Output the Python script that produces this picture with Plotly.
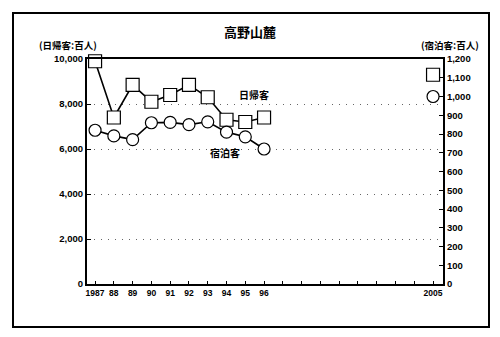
import plotly.graph_objects as go

# Years on the x axis (1997-2004 have no survey values)
years = list(range(1987, 2006))
year_labels = ["1987", "88", "89", "90", "91", "92", "93", "94", "95", "96",
               "", "", "", "", "", "", "", "", "2005"]

# 日帰客 (day visitors, hundreds of people) — left axis
day_visitors = [9900, 7400, 8850, 8100, 8400, 8850, 8300, 7300, 7200, 7400,
                None, None, None, None, None, None, None, None, 9300]
# 宿泊客 (overnight guests, hundreds of people) — right axis
overnight = [820, 790, 770, 860, 862, 850, 865, 810, 785, 720,
             None, None, None, None, None, None, None, None, 1000]

left_ticks = [0, 2000, 4000, 6000, 8000, 10000]
right_ticks = list(range(0, 1201, 100))

num_font = dict(family="Liberation Sans, Arial", size=9.5, color="black",
                weight="bold")
jp = "Noto Sans CJK JP"


def px_x(px):
    """Horizontal pixel position -> paper coordinate of the plot area."""
    return (px - 87) / 356


def px_y(py):
    """Vertical pixel position -> paper coordinate of the plot area."""
    return (284 - py) / 225


fig = go.Figure()
fig.add_trace(go.Scatter(
    x=years, y=day_visitors, mode="lines+markers", name="日帰客",
    connectgaps=False, cliponaxis=False,
    line=dict(color="black", width=1.6),
    marker=dict(symbol="square", size=13, color="white",
                line=dict(color="black", width=1.2)),
))
fig.add_trace(go.Scatter(
    x=years, y=overnight, mode="lines+markers", name="宿泊客",
    yaxis="y2", connectgaps=False, cliponaxis=False,
    line=dict(color="black", width=1.6),
    marker=dict(symbol="circle", size=12, color="white",
                line=dict(color="black", width=1.2)),
))

fig.update_layout(
    width=500, height=337,
    margin=dict(l=87, r=57, t=59, b=53),
    paper_bgcolor="white", plot_bgcolor="white",
    showlegend=False,
    xaxis=dict(
        range=[1986.57, 2005.53], tickvals=years, ticktext=year_labels,
        ticks="inside", ticklen=3, tickcolor="black", tickwidth=1,
        showline=True, linecolor="black", linewidth=2, mirror=True,
        showgrid=False, zeroline=False,
        tickfont=dict(family="Liberation Sans, Arial", size=8.5,
                      color="black", weight="bold"),
    ),
    yaxis=dict(
        range=[0, 10000], tickvals=left_ticks, tickformat=",d",
        ticks="inside", ticklen=4, tickcolor="black",
        showline=True, linecolor="black", linewidth=2,
        showgrid=True, gridcolor="#666", griddash="1px,6px", gridwidth=1,
        zeroline=False, tickfont=num_font,
    ),
    yaxis2=dict(
        range=[0, 1200], tickvals=right_ticks, tickformat=",d",
        overlaying="y", side="right",
        ticks="inside", ticklen=4, tickcolor="black",
        showline=True, linecolor="black", linewidth=2,
        showgrid=False, zeroline=False, tickfont=num_font,
    ),
    shapes=[dict(type="rect", xref="paper", yref="paper",
                 x0=px_x(13), x1=px_x(489), y0=px_y(327), y1=px_y(13),
                 line=dict(color="black", width=2))],
    annotations=[
        dict(text="<b>高野山麓</b>", xref="paper", yref="paper",
             x=px_x(250), y=px_y(31), xanchor="center", yanchor="middle",
             showarrow=False, font=dict(family=jp, size=13, color="black")),
        dict(text="<b>(日帰客:百人)</b>", xref="paper", yref="paper",
             x=px_x(68), y=px_y(45), xanchor="center", yanchor="middle",
             showarrow=False, font=dict(family=jp, size=9.5, color="black")),
        dict(text="<b>(宿泊客:百人)</b>", xref="paper", yref="paper",
             x=px_x(450), y=px_y(45), xanchor="center", yanchor="middle",
             showarrow=False, font=dict(family=jp, size=9.5, color="black")),
        dict(text="<b>日帰客</b>", x=1995.45, y=8440, showarrow=False,
             xanchor="center", yanchor="middle",
             font=dict(family=jp, size=10, color="black")),
        dict(text="<b>宿泊客</b>", x=1993.9, y=5830, showarrow=False,
             xanchor="center", yanchor="middle",
             font=dict(family=jp, size=10, color="black")),
    ],
)

fig.write_html("out.html")
